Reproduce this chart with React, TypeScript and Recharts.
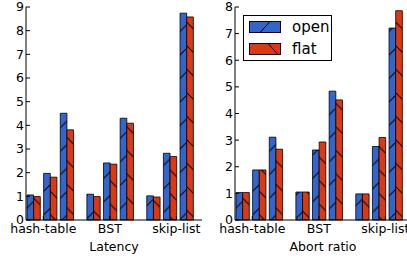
import React from 'react';
import { BarChart, Bar, XAxis, YAxis, Legend } from 'recharts';

const categories = ['hash-table', 'BST', 'skip-list'];
const seriesNames = ['open', 'flat'];

// three thread-count pairs per data structure
const latencyOpen = [1.06, 1.97, 4.51, 1.09, 2.41, 4.3, 1.02, 2.82, 8.74];
const latencyFlat = [0.99, 1.81, 3.81, 0.99, 2.36, 4.09, 0.97, 2.68, 8.58];
const abortOpen = [1.03, 1.88, 3.11, 1.05, 2.63, 4.84, 0.98, 2.76, 7.21];
const abortFlat = [1.03, 1.88, 2.66, 1.05, 2.93, 4.51, 0.98, 3.1, 7.86];

const latencyTicks = [0, 1, 2, 3, 4, 5, 6, 7, 8, 9];
const abortTicks = [0, 1, 2, 3, 4, 5, 6, 7, 8];

const FONT = '"DejaVu Sans", sans-serif';
const BLUE = '#3366CC';
const RED = '#DC3912';
const COLORS = [BLUE, RED];

const GROUP_STEP = 3.6;
const X_DOMAIN: [number, number] = [-0.44, 10.14];
const xTicks = categories.map((_, g) => g * 4 + 0.6);

const Y_AXIS_W = 26;
const PLOT_W = 176;
const CHART_W = Y_AXIS_W + PLOT_W + 2;
const BAR_PX = (PLOT_W / (X_DOMAIN[1] - X_DOMAIN[0])) * 0.4;
const HATCH = 23.5;

const tickStyle = { fill: '#000', fontSize: 12.5, fontFamily: FONT };

const HatchDefs = () => (
  <svg width={0} height={0} style={{ position: 'absolute' }}>
    <defs>
      <pattern id="hatch-open" patternUnits="userSpaceOnUse" width={HATCH} height={HATCH}>
        <rect width={HATCH} height={HATCH} fill={BLUE} />
        <path d={`M0,${HATCH} L${HATCH},0 M-2,2 L2,-2 M${HATCH - 2},${HATCH + 2} L${HATCH + 2},${HATCH - 2}`} stroke="#000" strokeWidth={1} />
      </pattern>
      <pattern id="hatch-flat" patternUnits="userSpaceOnUse" width={HATCH} height={HATCH}>
        <rect width={HATCH} height={HATCH} fill={RED} />
        <path d={`M0,0 L${HATCH},${HATCH} M-2,${HATCH - 2} L2,${HATCH + 2} M${HATCH - 2},-2 L${HATCH + 2},2`} stroke="#000" strokeWidth={1} />
      </pattern>
    </defs>
  </svg>
);

const HatchLegend = () => (
  <div
    style={{
      border: '1px solid #000',
      background: '#fff',
      width: 89,
      height: 46,
      boxSizing: 'border-box',
      padding: '0 0 0 5px',
      fontFamily: FONT,
      fontSize: 15,
      color: '#000',
    }}
  >
    {seriesNames.map((name, i) => (
      <div key={name} style={{ display: 'flex', alignItems: 'center', height: 22 }}>
        <svg width={32} height={12} style={{ display: 'block' }}>
          <rect x={0.5} y={0.5} width={31} height={11} fill={COLORS[i]} stroke="#000" strokeWidth={1} />
          {i === 0 ? (
            <line x1={11} y1={11.5} x2={21} y2={0.5} stroke="#000" strokeWidth={1} />
          ) : (
            <line x1={19} y1={0.5} x2={29} y2={11.5} stroke="#000" strokeWidth={1} />
          )}
        </svg>
        <span style={{ marginLeft: 11, lineHeight: '15px' }}>{name}</span>
      </div>
    ))}
  </div>
);

interface PanelProps {
  open: number[];
  flat: number[];
  yTicks: number[];
  label: string;
  showLegend?: boolean;
}

const Panel: React.FC<PanelProps> = ({ open, flat, yTicks, label, showLegend }) => {
  const data = open.map((v, i) => ({
    x: Math.floor(i / 3) * GROUP_STEP + (i % 3),
    open: v,
    flat: flat[i],
  }));
  const yMax = yTicks[yTicks.length - 1];

  return (
    <BarChart width={CHART_W} height={260} data={data} margin={{ top: 7, right: 2, bottom: 0, left: 0 }} barGap={0}>
      <XAxis
        type="number"
        dataKey="x"
        domain={X_DOMAIN}
        allowDataOverflow
        ticks={xTicks}
        interval={0}
        tickFormatter={(_v: number, i: number) => categories[i]}
        tickSize={-4}
        tickMargin={8}
        tick={tickStyle}
        stroke="#000"
        height={40}
        label={{ value: label, position: 'insideBottom', offset: 9, fill: '#000', fontSize: 12.5, fontFamily: FONT }}
      />
      <XAxis
        xAxisId="top"
        orientation="top"
        type="number"
        domain={X_DOMAIN}
        allowDataOverflow
        ticks={xTicks}
        interval={0}
        tick={false}
        tickSize={-4}
        height={0}
        stroke="#000"
      />
      <YAxis
        type="number"
        domain={[0, yMax]}
        ticks={yTicks}
        interval={0}
        width={Y_AXIS_W}
        tickSize={-4}
        tickMargin={6}
        tick={tickStyle}
        stroke="#000"
      />
      <YAxis
        yAxisId="r"
        orientation="right"
        type="number"
        domain={[0, yMax]}
        ticks={yTicks}
        interval={0}
        width={0}
        tick={false}
        tickSize={-4}
        stroke="#000"
      />
      {showLegend && (
        <Legend
          layout="vertical"
          align="center"
          verticalAlign="middle"
          content={() => <HatchLegend />}
          wrapperStyle={{ left: 34, top: 15, width: 89, height: 46 }}
        />
      )}
      <Bar dataKey="open" name={seriesNames[0]} fill="url(#hatch-open)" stroke="#000" strokeWidth={0.8} barSize={BAR_PX} isAnimationActive={false} />
      <Bar dataKey="flat" name={seriesNames[1]} fill="url(#hatch-flat)" stroke="#000" strokeWidth={0.8} barSize={BAR_PX} isAnimationActive={false} />
    </BarChart>
  );
};

export default function App() {
  return (
    <div style={{ position: 'absolute', left: 0, top: 0, width: 407, height: 260, overflow: 'hidden', background: '#fff' }}>
      <HatchDefs />
      <div style={{ position: 'absolute', left: 0, top: 0 }}>
        <Panel open={latencyOpen} flat={latencyFlat} yTicks={latencyTicks} label="Latency" />
      </div>
      <div style={{ position: 'absolute', left: 209, top: 0 }}>
        <Panel open={abortOpen} flat={abortFlat} yTicks={abortTicks} label="Abort ratio" showLegend />
      </div>
    </div>
  );
}
